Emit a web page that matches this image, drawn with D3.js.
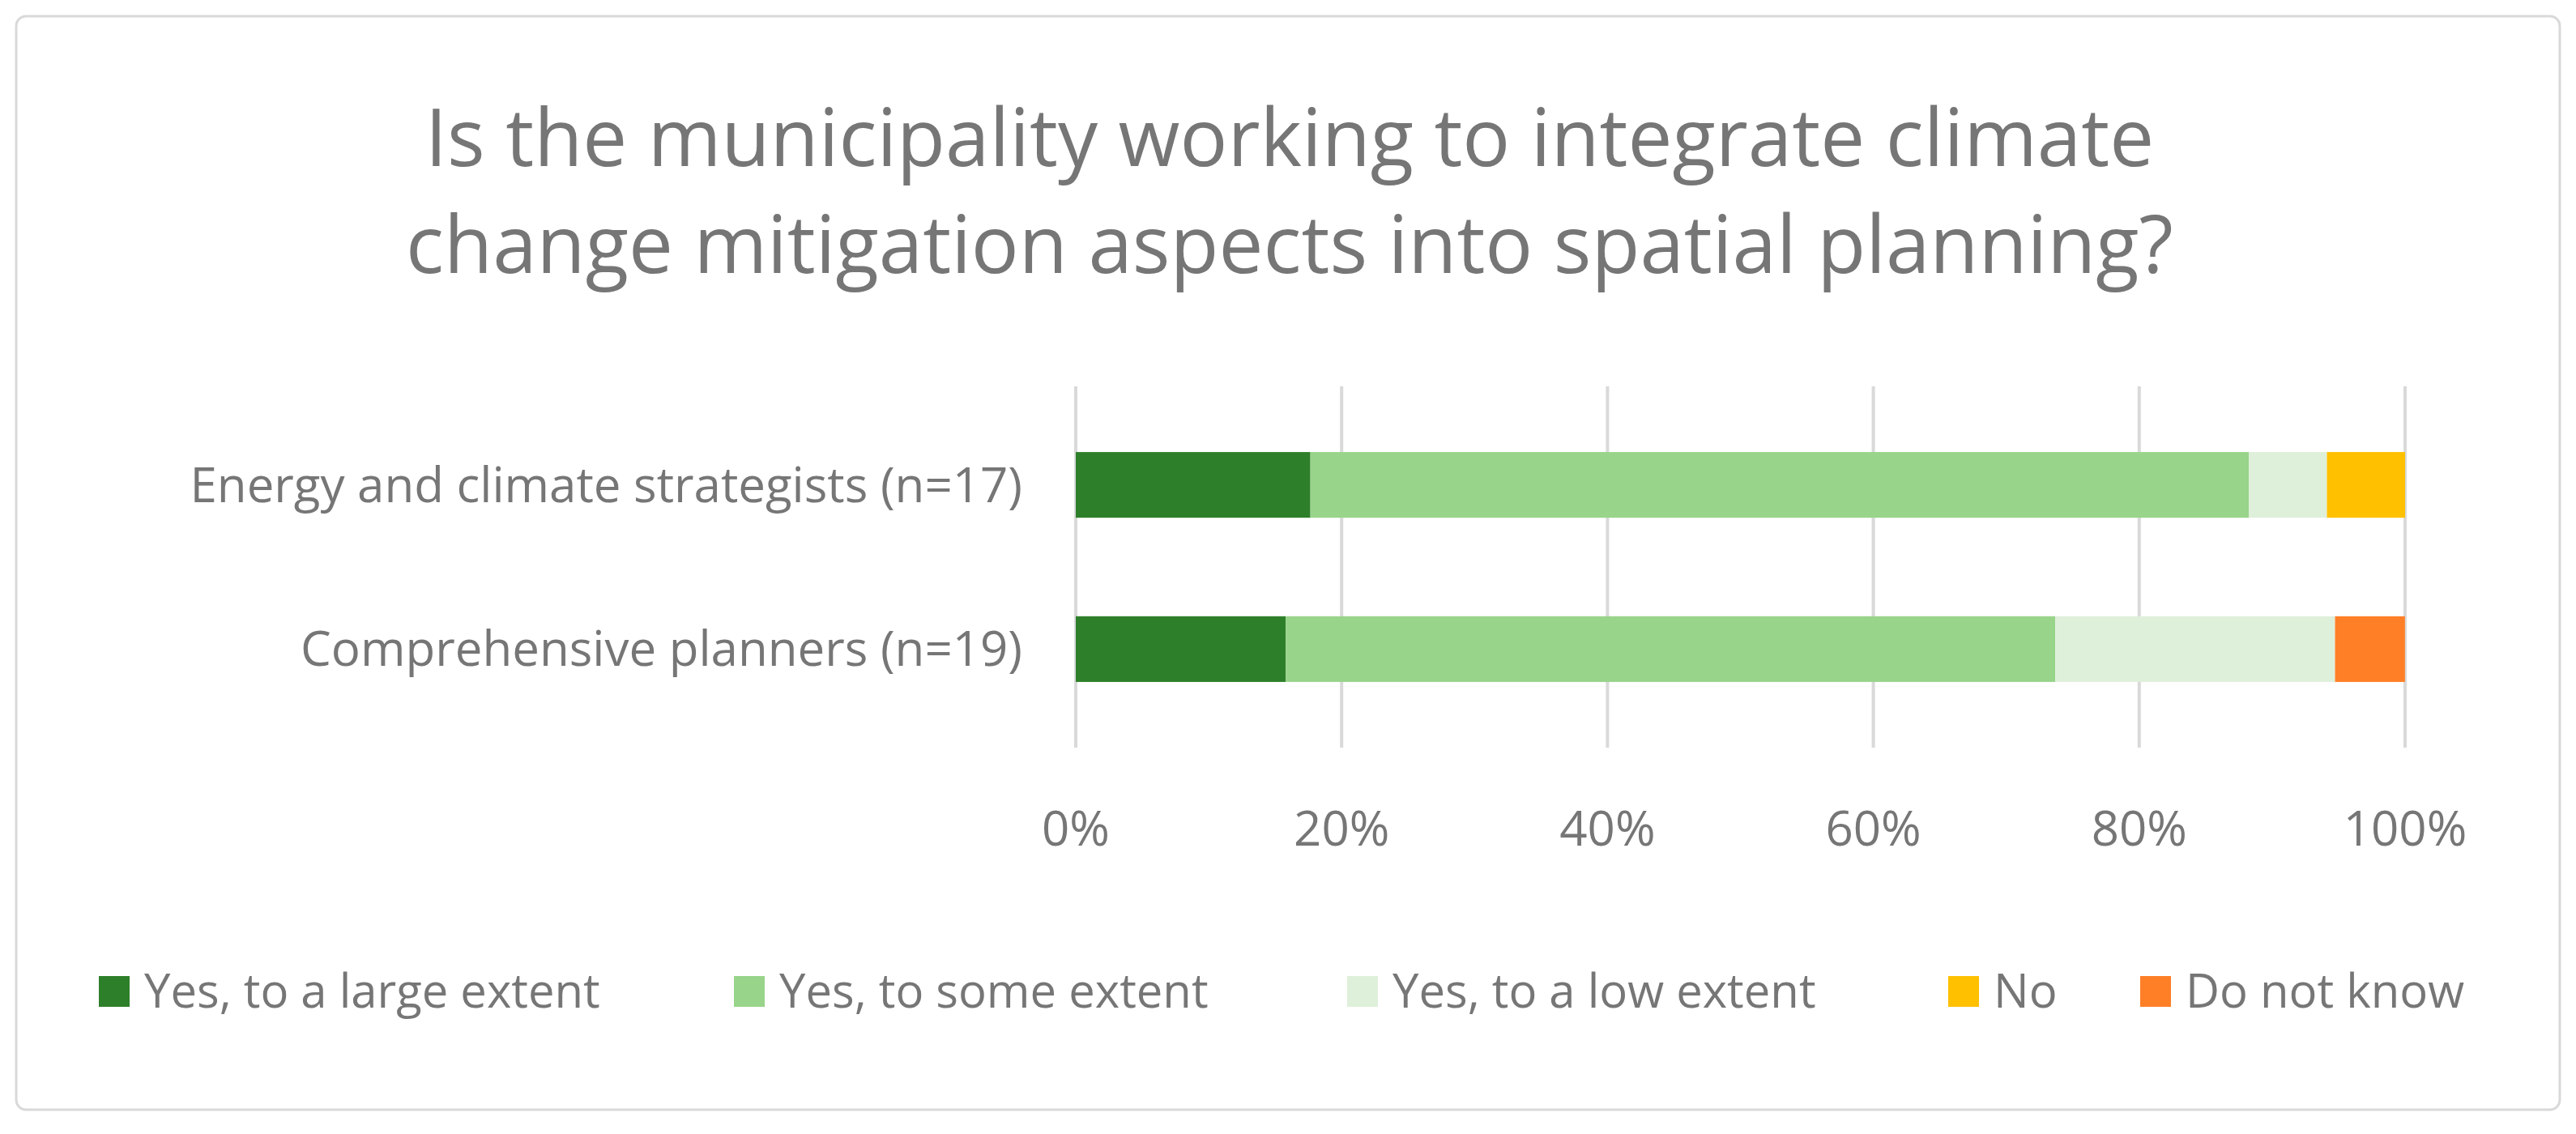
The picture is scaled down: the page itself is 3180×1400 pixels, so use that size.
<!DOCTYPE html>
<html><head><meta charset="utf-8">
<script src="https://cdn.jsdelivr.net/npm/d3@7"></script>
<style>body{margin:0;background:#fff}</style></head>
<body><svg id="c" width="3180" height="1400"></svg>
<script>
const categories = ["Energy and climate strategists (n=17)", "Comprehensive planners (n=19)"];
const seriesNames = ["Yes, to a large extent","Yes, to some extent","Yes, to a low extent","No","Do not know"];
const seriesColors = ["#2e7f2a","#98d48a","#dff0da","#ffc000","#ff7f27"];
const largeExtent = [17.65, 15.79];
const someExtent = [70.59, 57.89];
const lowExtent = [5.88, 21.05];
const noValues = [5.88, 0];
const dontKnow = [0, 5.26];
const tickValues = [0,20,40,60,80,100];

const svg = d3.select("#c");
const font = "'Open Sans', sans-serif";
const grey = "#767676";
svg.append("rect").attr("x",20).attr("y",20).attr("width",3140).attr("height",1350)
  .attr("rx",12).attr("fill","#fff").attr("stroke","#d9d9d9").attr("stroke-width",3);

const title = svg.append("text").attr("text-anchor","middle").attr("fill",grey)
  .attr("font-family",font).attr("font-size",98);
title.append("tspan").attr("x",1592).attr("y",205).text("Is the municipality working to integrate climate");
title.append("tspan").attr("x",1592).attr("y",337).text("change mitigation aspects into spatial planning?");

const x = d3.scaleLinear().domain([0,100]).range([1328,2969]);
const y = d3.scaleBand().domain(categories).range([477,923]).paddingInner(0.6).paddingOuter(0.4);

svg.append("g").selectAll("line").data(tickValues).join("line")
  .attr("x1",d=>x(d)).attr("x2",d=>x(d)).attr("y1",477).attr("y2",923)
  .attr("stroke","#d9d9d9").attr("stroke-width",4);

const series = [largeExtent, someExtent, lowExtent, noValues, dontKnow];
categories.forEach((c,i)=>{
  let cum = 0;
  series.forEach((s,k)=>{
    const v = s[i];
    if(v>0){
      svg.append("rect").attr("x",x(cum)).attr("y",y(c)).attr("width",x(cum+v)-x(cum))
        .attr("height",y.bandwidth()).attr("fill",seriesColors[k]);
    }
    cum += v;
  });
  svg.append("text").attr("x",1262).attr("y",y(c)+y.bandwidth()/2).attr("dy","0.35em")
    .attr("text-anchor","end").attr("fill",grey).attr("font-family",font).attr("font-size",60).text(c);
});

svg.append("g").selectAll("text").data(tickValues).join("text")
  .attr("x",d=>x(d)).attr("y",1044).attr("text-anchor","middle").attr("fill",grey)
  .attr("font-family",font).attr("font-size",60).text(d=>d+"%");

const legX = [122, 906, 1663, 2405, 2642];
seriesNames.forEach((n,k)=>{
  svg.append("rect").attr("x",legX[k]).attr("y",1205).attr("width",38).attr("height",38).attr("fill",seriesColors[k]);
  svg.append("text").attr("x",legX[k]+56).attr("y",1224).attr("dy","0.35em").attr("fill",grey)
    .attr("font-family",font).attr("font-size",58).text(n);
});
</script></body></html>
